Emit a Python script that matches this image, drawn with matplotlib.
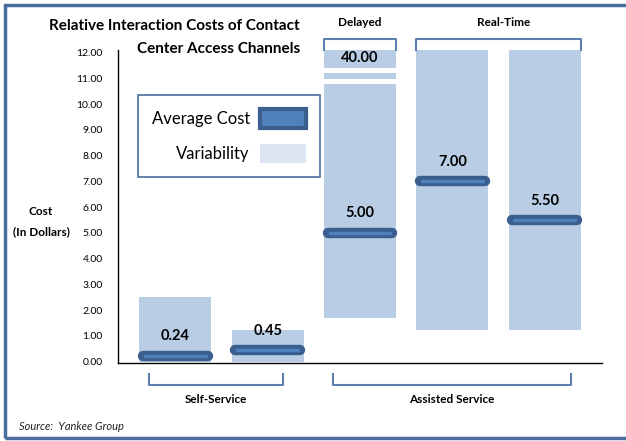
import matplotlib.pyplot as plt
from matplotlib.patches import Patch, Rectangle
from matplotlib.lines import Line2D
import matplotlib.transforms as mtransforms

plt.rcParams['font.family'] = ['Lato', 'DejaVu Sans']

# channels (left to right)
channels = ["Self-Service A", "Self-Service B", "Delayed", "Real-Time A", "Real-Time B"]
avg_cost = [0.24, 0.45, 5.00, 7.00, 5.50]
var_low = [0.0, 0.0, 1.7, 1.25, 1.25]
var_high = [2.5, 1.25, 40.0, 12.5, 12.5]
yticks = [0, 1, 2, 3, 4, 5, 6, 7, 8, 9, 10, 11, 12]

bar_col = "#b9cde5"
avg_edge = "#3a5f8f"
avg_face = "#4f81bd"
frame_col = "#4a6d9e"
bracket_col = "#5b7fb0"

fig = plt.figure(figsize=(6.26, 4.41), dpi=100)
ax = fig.add_axes([118 / 626, 1 - 363 / 441, 484 / 626, 313 / 441])

x = list(range(len(channels)))
heights = [h - l for h, l in zip(var_high, var_low)]
ax.bar(x, heights, bottom=var_low, width=0.78, color=bar_col, zorder=1)

# axis break on the delayed bar (value runs off the chart)
for lo, hi in [(10.78, 10.98), (11.21, 11.40)]:
    ax.bar(2, hi - lo, bottom=lo, width=0.80, color="white", zorder=2)

# average cost marks
for xi, v in zip(x, avg_cost):
    ax.plot([xi - 0.35, xi + 0.35], [v, v], color=avg_edge, lw=7.5,
            solid_capstyle="round", zorder=3)
    ax.plot([xi - 0.33, xi + 0.33], [v, v], color=avg_face, lw=2.5,
            solid_capstyle="round", zorder=4)
    ax.annotate(f"{v:.2f}", (xi, v), xytext=(0, 14), textcoords="offset points",
                ha="center", va="center", fontsize=10.5, fontweight="bold", zorder=5)

ax.text(2, 11.78, f"{var_high[2]:.2f}", ha="center", va="center",
        fontsize=10.5, fontweight="bold", zorder=5)

ax.set_xlim(-0.62, 4.62)
ax.set_ylim(-0.05, 12.1)
ax.set_yticks(yticks)
ax.set_yticklabels([f"{t:.2f}" for t in yticks])
ax.set_xticks([])
ax.tick_params(axis="y", length=0, pad=11, labelsize=7.5)
for s in ["top", "right"]:
    ax.spines[s].set_visible(False)
ax.spines["left"].set_linewidth(1.0)
ax.spines["bottom"].set_linewidth(1.0)

# brackets
trans = mtransforms.blended_transform_factory(ax.transData, ax.transAxes)

def bracket(x0, x1, y_line, y_end, label, y_text):
    ax.add_line(Line2D([x0, x0, x1, x1], [y_end, y_line, y_line, y_end],
                       transform=trans, color=bracket_col, lw=1.5,
                       clip_on=False, solid_joinstyle="round"))
    ax.text((x0 + x1) / 2, y_text, label, transform=trans, ha="center",
            va="center", fontsize=8.5, fontweight="bold")

bracket(1.61, 2.39, 1.035, 1.0, "Delayed", 1.089)
bracket(2.61, 4.39, 1.035, 1.0, "", 1.089)
ax.text(3.55, 1.089, "Real-Time", transform=trans, ha="center", va="center",
        fontsize=8.5, fontweight="bold")
bracket(-0.28, 1.17, -0.070, -0.035, "Self-Service", -0.118)
bracket(1.71, 4.28, -0.070, -0.035, "Assisted Service", -0.118)

# legend
handles = [Patch(facecolor=avg_face, edgecolor=avg_edge, linewidth=3),
           Patch(facecolor="#dce6f2", edgecolor="none")]
leg = ax.legend(handles, ["Average Cost", "Variability"], loc="upper left",
                bbox_to_anchor=(0.041, 0.856), borderaxespad=0, markerfirst=False,
                fontsize=12, fancybox=False, framealpha=1, handlelength=2.8,
                handleheight=1.4, labelspacing=0.96, borderpad=0.82, handletextpad=0.6)
leg.get_frame().set_edgecolor(frame_col)
leg.get_frame().set_linewidth(1.2)

# title, axis label, source
fig.text(300 / 626, 1 - 26 / 441, "Relative Interaction Costs of Contact",
         ha="right", va="center", fontsize=11, fontweight="bold")
fig.text(300 / 626, 1 - 49 / 441, "Center Access Channels",
         ha="right", va="center", fontsize=11, fontweight="bold")
fig.text(41 / 626, 1 - 212 / 441, "Cost", ha="center", va="center",
         fontsize=8.5, fontweight="bold")
fig.text(41 / 626, 1 - 232 / 441, "(In Dollars)", ha="center", va="center",
         fontsize=8.5, fontweight="bold")
fig.text(19 / 626, 1 - 427 / 441, "Source:  Yankee Group", ha="left", va="center",
         fontsize=8, style="italic", color="#222222")

# outer frame
fig.patches.append(Rectangle((5 / 626, 3 / 441), 1.1, 1 - 8 / 441, transform=fig.transFigure,
                             fill=False, edgecolor=frame_col, linewidth=2.5))

fig.savefig("out.png", dpi=100)
